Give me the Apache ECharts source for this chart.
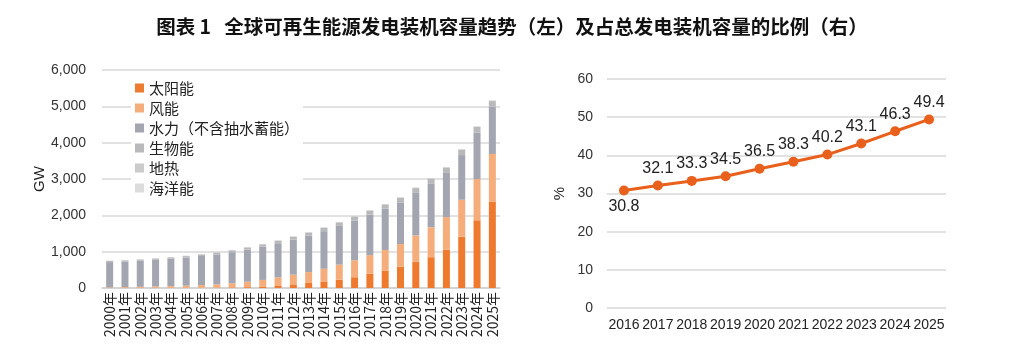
<!doctype html>
<html>
    <head>
        <meta charset="utf-8">
        <title>全球可再生能源发电装机容量</title>
        <style>
            html, body { margin: 0; padding: 0; background: #fff; }
            #main { width: 1024px; height: 354px; }
        </style>
    </head>
    <body>
        <div id="main"></div>
        <script src="https://cdn.jsdelivr.net/npm/echarts@6/dist/echarts.min.js"></script>
        <script>
            var years = ['2000年', '2001年', '2002年', '2003年', '2004年', '2005年', '2006年', '2007年', '2008年',
                '2009年', '2010年', '2011年', '2012年', '2013年', '2014年', '2015年', '2016年', '2017年',
                '2018年', '2019年', '2020年', '2021年', '2022年', '2023年', '2024年', '2025年'];

            // GW
            var solar = [1, 1, 2, 3, 4, 5, 6, 9, 15, 23, 41, 72, 100, 139, 180, 227, 296, 390, 483, 586, 714, 848, 1053, 1412, 1865, 2380];
            var wind = [17, 24, 31, 39, 47, 59, 74, 91, 115, 150, 181, 220, 267, 300, 349, 416, 467, 514, 564, 622, 733, 824, 899, 1017, 1133, 1310];
            var hydro = [695, 705, 720, 735, 755, 775, 800, 825, 855, 885, 915, 940, 965, 1000, 1035, 1065, 1095, 1115, 1135, 1150, 1170, 1195, 1215, 1230, 1283, 1300];
            var bio = [30, 32, 33, 35, 37, 40, 44, 47, 52, 57, 63, 70, 77, 85, 92, 97, 105, 111, 117, 124, 133, 140, 145, 148, 150, 155];
            var geo = [8, 8, 8, 9, 9, 9, 9, 10, 10, 10, 10, 10, 11, 11, 12, 12, 12, 13, 13, 14, 14, 15, 15, 15, 15, 16];
            var ocean = [0.5, 0.5, 0.5, 0.5, 0.5, 0.5, 0.5, 0.5, 0.5, 0.5, 0.5, 0.5, 0.5, 0.5, 0.5, 0.5, 0.5, 0.5, 0.5, 0.5, 0.5, 0.5, 0.5, 0.5, 0.5, 0.5];

            var shareYears = ['2016', '2017', '2018', '2019', '2020', '2021', '2022', '2023', '2024', '2025'];
            var share = [30.8, 32.1, 33.3, 34.5, 36.5, 38.3, 40.2, 43.1, 46.3, 49.4];

            var leftTicks = [0, 1000, 2000, 3000, 4000, 5000, 6000];

            var FONT = 'Liberation Sans, Arial, "Noto Sans CJK SC", sans-serif';
            var CJK = '"Noto Sans CJK SC", "Liberation Sans", sans-serif';

            var chart = echarts.init(document.getElementById('main'), null, { renderer: 'canvas' });

            var barNames = ['太阳能', '风能', '水力（不含抽水蓄能）', '生物能', '地热', '海洋能'];
            var barData = [solar, wind, hydro, bio, geo, ocean];
            var barColors = ['#ee7a2f', '#f4ad7b', '#a3a6b0', '#b9b9bb', '#cbcbcb', '#dcdcdc'];

            var series = barNames.map(function (name, i) {
                return {
                    name: name,
                    type: 'bar',
                    stack: 'cap',
                    xAxisIndex: 0,
                    yAxisIndex: 0,
                    barWidth: 7,
                    itemStyle: { color: barColors[i] },
                    data: barData[i],
                    z: 2
                };
            });

            // first point has its label underneath, as in the original
            var shareData = share.map(function (v, i) {
                if (i === 0) {
                    return { value: v, label: { position: 'bottom', distance: 3 } };
                }
                return v;
            });

            series.push({
                name: '占比',
                type: 'line',
                xAxisIndex: 1,
                yAxisIndex: 1,
                data: shareData,
                symbol: 'circle',
                symbolSize: 10,
                lineStyle: { color: '#e8601c', width: 3 },
                itemStyle: { color: '#e8601c' },
                label: {
                    show: true,
                    position: 'top',
                    distance: 4,
                    color: '#222',
                    fontSize: 16,
                    fontFamily: FONT
                }
            });

            chart.setOption({
                animation: false,
                title: {
                    text: '图表 1   全球可再生能源发电装机容量趋势（左）及占总发电装机容量的比例（右）',
                    left: 'center',
                    top: 12,
                    textStyle: {
                        fontFamily: CJK,
                        fontSize: 19.5,
                        fontWeight: 'bold',
                        color: '#111'
                    }
                },
                legend: {
                    data: barNames,
                    orient: 'vertical',
                    left: 131,
                    top: 78,
                    itemWidth: 9,
                    itemHeight: 9,
                    itemGap: 4,
                    icon: 'rect',
                    backgroundColor: '#fff',
                    padding: [2, 4, 2, 4],
                    textStyle: {
                        fontFamily: CJK,
                        fontSize: 15,
                        color: '#222',
                        lineHeight: 16
                    },
                    z: 10
                },
                grid: [
                    { left: 102, right: 524, top: 70, bottom: 66 },
                    { left: 607, right: 78, top: 79, bottom: 46 }
                ],
                xAxis: [
                    {
                        type: 'category',
                        gridIndex: 0,
                        data: years,
                        axisLine: { lineStyle: { color: '#d0d0d0', width: 1.5 } },
                        axisTick: { show: false },
                        axisLabel: {
                            interval: 0,
                            rotate: 90,
                            fontSize: 14,
                            fontFamily: CJK,
                            color: '#222',
                            margin: 4
                        }
                    },
                    {
                        type: 'category',
                        gridIndex: 1,
                        data: shareYears,
                        axisLine: { show: false },
                        axisTick: { show: false },
                        axisLabel: {
                            interval: 0,
                            fontSize: 14,
                            fontFamily: FONT,
                            color: '#222',
                            margin: 10
                        }
                    }
                ],
                yAxis: [
                    {
                        type: 'value',
                        gridIndex: 0,
                        min: leftTicks[0],
                        max: leftTicks[leftTicks.length - 1],
                        interval: 1000,
                        name: 'GW',
                        nameLocation: 'middle',
                        nameRotate: 90,
                        nameGap: 50,
                        nameTextStyle: { fontFamily: FONT, fontSize: 15, color: '#222' },
                        axisLine: { show: false },
                        axisTick: { show: false },
                        splitLine: { lineStyle: { color: '#d9d9d9', width: 1.5 } },
                        axisLabel: {
                            fontSize: 14,
                            fontFamily: FONT,
                            color: '#333',
                            margin: 16,
                            formatter: function (v) {
                                return echarts.format.addCommas(v);
                            }
                        }
                    },
                    {
                        type: 'value',
                        gridIndex: 1,
                        min: 0,
                        max: 60,
                        interval: 10,
                        name: '%',
                        nameLocation: 'middle',
                        nameRotate: 90,
                        nameGap: 40,
                        nameTextStyle: { fontFamily: FONT, fontSize: 15, color: '#222' },
                        axisLine: { show: false },
                        axisTick: { show: false },
                        splitLine: { lineStyle: { color: '#d9d9d9', width: 1.5 } },
                        axisLabel: {
                            fontSize: 14,
                            fontFamily: FONT,
                            color: '#333',
                            margin: 14
                        }
                    }
                ],
                series: series
            });

            window.onresize = chart.resize;
        </script>
    </body>
</html>
